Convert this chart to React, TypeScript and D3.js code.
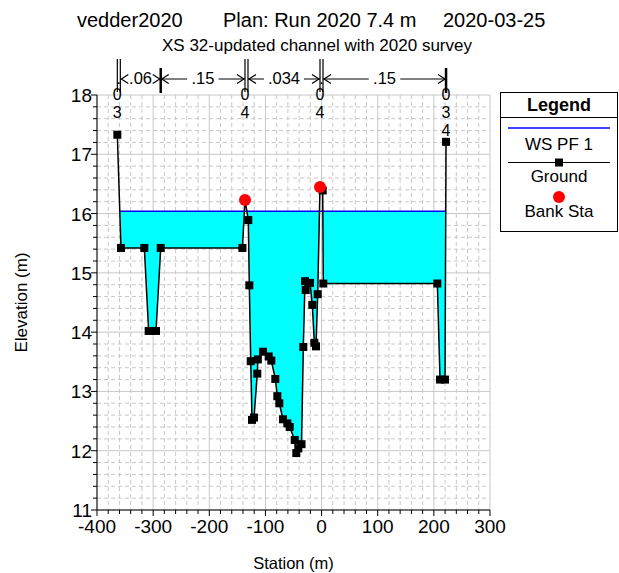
import React from "react";
import * as d3 from "d3";

const stations = [-363.8, -357.3, -315.7, -308, -294.9, -286.5, -141, -136.4, -130.5, -128.7, -126.2, -123.9, -120.3, -114.5, -113.5, -104.3, -94.2, -89.5, -82.4, -78.8, -75.3, -68.7, -61, -56.8, -47.8, -45, -41.4, -35.7, -32.5, -29.5, -28.2, -20.6, -16.5, -12.9, -9.9, -6.9, -2.8, 2.0, 3.1, 206.2, 211, 219.9, 221.7];
const elevations = [17.33, 15.42, 15.42, 14.02, 14.02, 15.42, 15.42, 16.23, 15.89, 14.79, 13.51, 12.52, 12.56, 13.3, 13.54, 13.67, 13.59, 13.52, 13.21, 12.92, 12.8, 12.53, 12.46, 12.4, 12.18, 11.96, 12.04, 12.11, 13.75, 14.86, 14.71, 14.83, 14.46, 13.82, 13.76, 14.64, 16.45, 16.39, 14.82, 14.82, 13.2, 13.2, 17.21];
const bankStations = [-136.4, -2.8];
const bankElevations = [16.23, 16.45];
const wsElevation = 16.04;
const nStations = [-363.8, -286.5, -136.4, -2.8, 221.7];
const nValues = [".06", ".15", ".034", ".15"];
const nDouble = [true, false, true, true, false];
const dotStations = [-363.8, -2.8];
const topLabelStations = [-363.8, -136.4, -2.8, 221.7];
const topLabelTexts = [["0", "3"], ["0", "4"], ["0", "4"], ["0", "3", "4"]];
const xTicks = [-400, -300, -200, -100, 0, 100, 200, 300];
const yTicks = [11, 12, 13, 14, 15, 16, 17, 18];

const FONT = "Liberation Sans, Arial, sans-serif";

export default function App() {
  const W = 619, H = 573;
  const L = 97, R = 490, T = 95, B = 510;
  const x = d3.scaleLinear().domain([-400, 300]).range([L, R]);
  const y = d3.scaleLinear().domain([11, 18]).range([B, T]);

  const ground = stations.map((s, i) => [s, elevations[i]] as [number, number]);

  const pts: [number, number][] = [];
  for (let i = 0; i < ground.length; i++) {
    const [s0, e0] = ground[i];
    pts.push([s0, e0]);
    if (i < ground.length - 1) {
      const [s1, e1] = ground[i + 1];
      if ((e0 - wsElevation) * (e1 - wsElevation) < 0) {
        const t = (wsElevation - e0) / (e1 - e0);
        pts.push([s0 + t * (s1 - s0), wsElevation]);
      }
    }
  }
  const wet = pts.filter((p) => p[1] <= wsElevation + 1e-9);
  const xL = wet[0][0], xR = wet[wet.length - 1][0];
  const inRange = pts.filter((p) => p[0] >= xL - 1e-9 && p[0] <= xR + 1e-9);
  const area = d3
    .area<[number, number]>()
    .x((d) => x(d[0]))
    .y0((d) => y(Math.min(d[1], wsElevation)))
    .y1(() => y(wsElevation));
  const line = d3
    .line<[number, number]>()
    .x((d) => x(d[0]))
    .y((d) => y(d[1]));

  const minorX = d3.range(-400, 301, 20);
  const minorY = d3.range(11, 18.0001, 0.2);

  const arrowY = 79;
  const nodes: React.ReactNode[] = [];
  nStations.forEach((s, i) => {
    const px = x(s);
    if (nDouble[i]) {
      nodes.push(<line key={"dl" + i} x1={px} x2={px} y1={59} y2={92} stroke="#000" strokeWidth={1.2} />);
      nodes.push(<line key={"dr" + i} x1={px + 3} x2={px + 3} y1={59} y2={92} stroke="#000" strokeWidth={1.2} />);
    } else {
      nodes.push(<line key={"s" + i} x1={px} x2={px} y1={68} y2={93} stroke="#000" strokeWidth={2.5} />);
    }
  });
  nValues.forEach((v, i) => {
    const a = x(nStations[i]) + (nDouble[i] ? 3 : 0);
    const b = x(nStations[i + 1]);
    const mid = (a + b) / 2;
    const tw = v.length * 8.5 + 6;
    const ah = 8;
    nodes.push(
      <text key={"nt" + i} x={mid} y={84} textAnchor="middle" fontSize={16.5} fontFamily={FONT}>{v}</text>
    );
    const lEnd = mid - tw / 2;
    const rStart = mid + tw / 2;
    if (lEnd - a > ah + 1) nodes.push(<line key={"al" + i} x1={a} x2={lEnd} y1={arrowY} y2={arrowY} stroke="#000" strokeWidth={1} />);
    if (b - rStart > ah + 1) nodes.push(<line key={"ar" + i} x1={rStart} x2={b} y1={arrowY} y2={arrowY} stroke="#000" strokeWidth={1} />);
    nodes.push(<path key={"hl" + i} d={`M${a + ah},${arrowY - 4.5}L${a + 1},${arrowY}L${a + ah},${arrowY + 4.5}`} fill="none" stroke="#000" strokeWidth={1.2} />);
    nodes.push(<path key={"hr" + i} d={`M${b - ah},${arrowY - 4.5}L${b - 1},${arrowY}L${b - ah},${arrowY + 4.5}`} fill="none" stroke="#000" strokeWidth={1.2} />);
  });

  return (
    <svg width={W} height={H} style={{ position: "absolute", left: 0, top: 0, background: "#fff" }} fontFamily={FONT}>
      <rect x={0} y={0} width={W} height={H} fill="#fff" />
      {/* titles */}
      <text x={77} y={27} fontSize={20}>vedder2020</text>
      <text x={223} y={27} fontSize={20}>Plan: Run 2020 7.4 m</text>
      <text x={443} y={27} fontSize={20}>2020-03-25</text>
      <text x={317} y={51} fontSize={17} textAnchor="middle">XS 32-updated channel with 2020 survey</text>

      {/* grid */}
      {minorX.map((v) => (
        <line key={"gx" + v} x1={x(v)} x2={x(v)} y1={T} y2={B} stroke="#c8c8c8" strokeWidth={1}
          strokeDasharray={v % 100 === 0 ? undefined : "4,3"} />
      ))}
      {minorY.map((v, i) => (
        <line key={"gy" + i} x1={L} x2={R} y1={y(v)} y2={y(v)} stroke="#c8c8c8" strokeWidth={1}
          strokeDasharray={i % 5 === 0 ? undefined : "4,3"} />
      ))}

      {/* water */}
      <path d={area(inRange) || ""} fill="#00ffff" stroke="none" />
      <line x1={x(xL)} x2={x(xR)} y1={y(wsElevation)} y2={y(wsElevation)} stroke="#0000ff" strokeWidth={1.5} />

      {/* ground */}
      <path d={line(ground) || ""} fill="none" stroke="#000" strokeWidth={1.5} />
      {ground.map((d, i) => (
        <rect key={"g" + i} x={x(d[0]) - 4} y={y(d[1]) - 4} width={8} height={8} fill="#000" />
      ))}
      {bankStations.map((s, i) => (
        <circle key={"b" + i} cx={x(s)} cy={y(bankElevations[i])} r={6} fill="#ff0000" />
      ))}

      {/* axes */}
      <line x1={L} x2={L} y1={T} y2={B} stroke="#000" strokeWidth={1} />
      <line x1={L} x2={R} y1={B} y2={B} stroke="#000" strokeWidth={1} />
      {minorY.map((v, i) => (
        <line key={"ty" + i} x1={L - (i % 5 === 0 ? 6 : 4)} x2={L} y1={y(v)} y2={y(v)} stroke="#000" />
      ))}
      {minorX.map((v) => (
        <line key={"tx" + v} x1={x(v)} x2={x(v)} y1={B} y2={B + (v % 100 === 0 ? 6 : 4)} stroke="#000" />
      ))}
      {yTicks.map((v) => (
        <text key={"yl" + v} x={L - 5} y={y(v) + 7} fontSize={19} textAnchor="end">{v}</text>
      ))}
      {xTicks.map((v) => (
        <text key={"xl" + v} x={x(v)} y={533} fontSize={19} textAnchor="middle">{v}</text>
      ))}
      <text x={x(-50)} y={569} fontSize={16.5} textAnchor="middle">Station (m)</text>
      <text transform={`translate(27,${(T + B) / 2}) rotate(-90)`} fontSize={17} textAnchor="middle">Elevation (m)</text>

      {/* n-value annotations */}
      {nodes}
      {dotStations.map((s, i) => (
        <text key={"dot" + i} x={x(s) + 1.5} y={84} fontSize={16} textAnchor="middle">.</text>
      ))}
      {topLabelStations.map((s, i) =>
        topLabelTexts[i].map((t, j) => (
          <text key={"tl" + i + "_" + j} x={x(s)} y={100 + j * 18} fontSize={16} textAnchor="middle">{t}</text>
        ))
      )}

      {/* legend */}
      <rect x={500.5} y={92.5} width={117} height={139} fill="#fff" stroke="#000" strokeWidth={1} />
      <line x1={500.5} x2={617.5} y1={117.5} y2={117.5} stroke="#000" />
      <text x={559} y={111} fontSize={18} fontWeight="bold" textAnchor="middle">Legend</text>
      <line x1={508} x2={610} y1={128} y2={128} stroke="#0000ff" strokeWidth={1.5} />
      <text x={559} y={150} fontSize={17} textAnchor="middle">WS PF 1</text>
      <line x1={508} x2={610} y1={162.5} y2={162.5} stroke="#000" strokeWidth={1.2} />
      <rect x={555} y={158.5} width={8} height={8} fill="#000" />
      <text x={559} y={182} fontSize={17} textAnchor="middle">Ground</text>
      <circle cx={559} cy={197} r={6} fill="#ff0000" />
      <text x={559} y={217} fontSize={17} textAnchor="middle">Bank Sta</text>
    </svg>
  );
}
